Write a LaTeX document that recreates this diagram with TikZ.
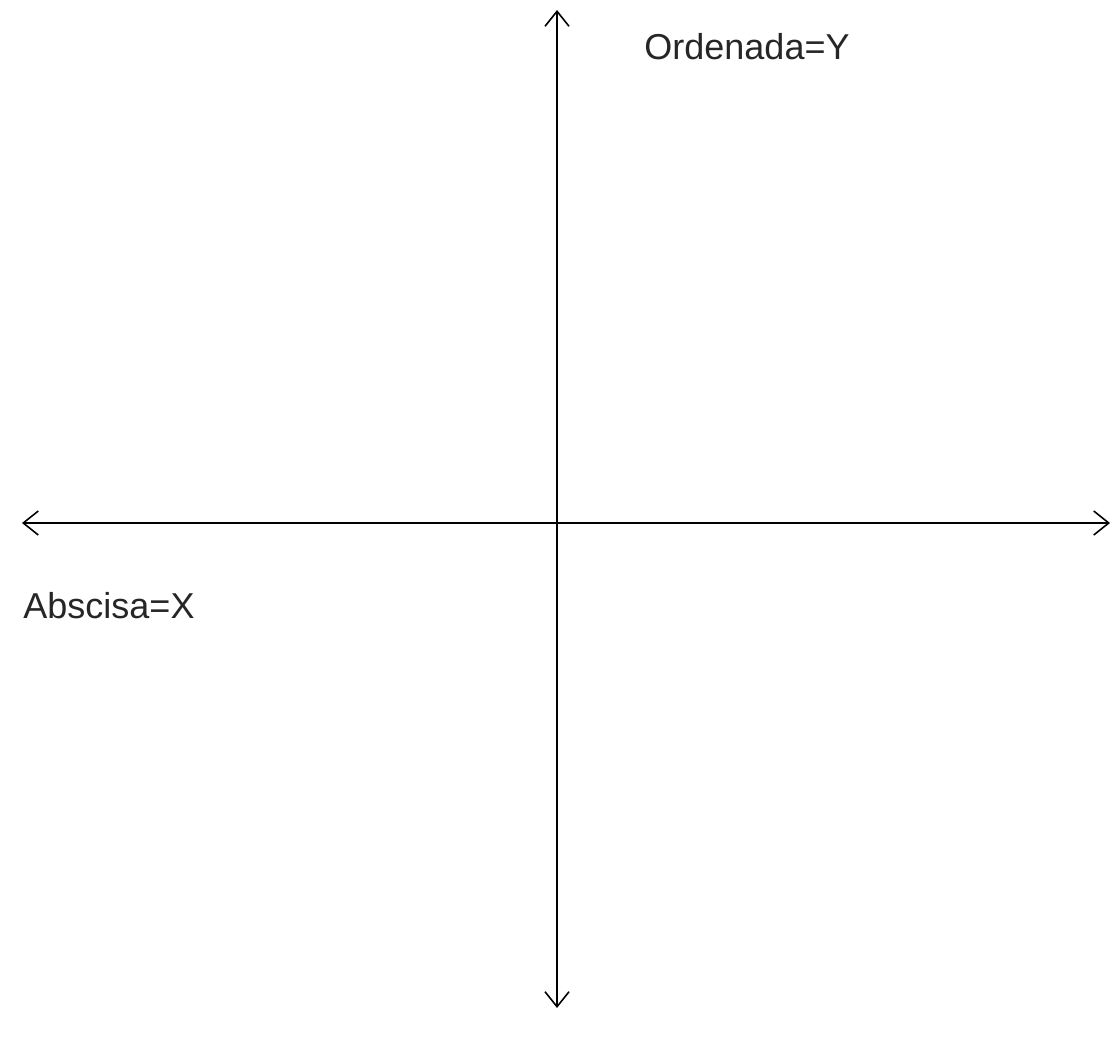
\documentclass[tikz,border=0pt]{standalone}
\usepackage{fontspec}
\setmainfont{Liberation Sans}
\usetikzlibrary{arrows.meta}
\begin{document}
\begin{tikzpicture}[x=1pt,y=-1pt,
  axis/.style={line width=1.6pt,black,arrows={Straight Barb[length=15pt,width=24pt,line width=1.6pt]-Straight Barb[length=15pt,width=24pt,line width=1.6pt]}},
  lbl/.style={font=\fontsize{36}{40}\selectfont,inner sep=0pt,anchor=base,text=black!85}]
\useasboundingbox (0,0) rectangle (1117,1040);
\coordinate (L) at (22,523);
\coordinate (R) at (1110,523);
\coordinate (T) at (557,10);
\coordinate (B) at (557,1008);
\draw[axis] (L) -- (R);
\draw[axis] (B) -- (T);
\node[lbl] (ylab) at (747,60) {Ordenada=Y};
\node[lbl] (xlab) at (109,618) {Abscisa=X};
\end{tikzpicture}
\end{document}
